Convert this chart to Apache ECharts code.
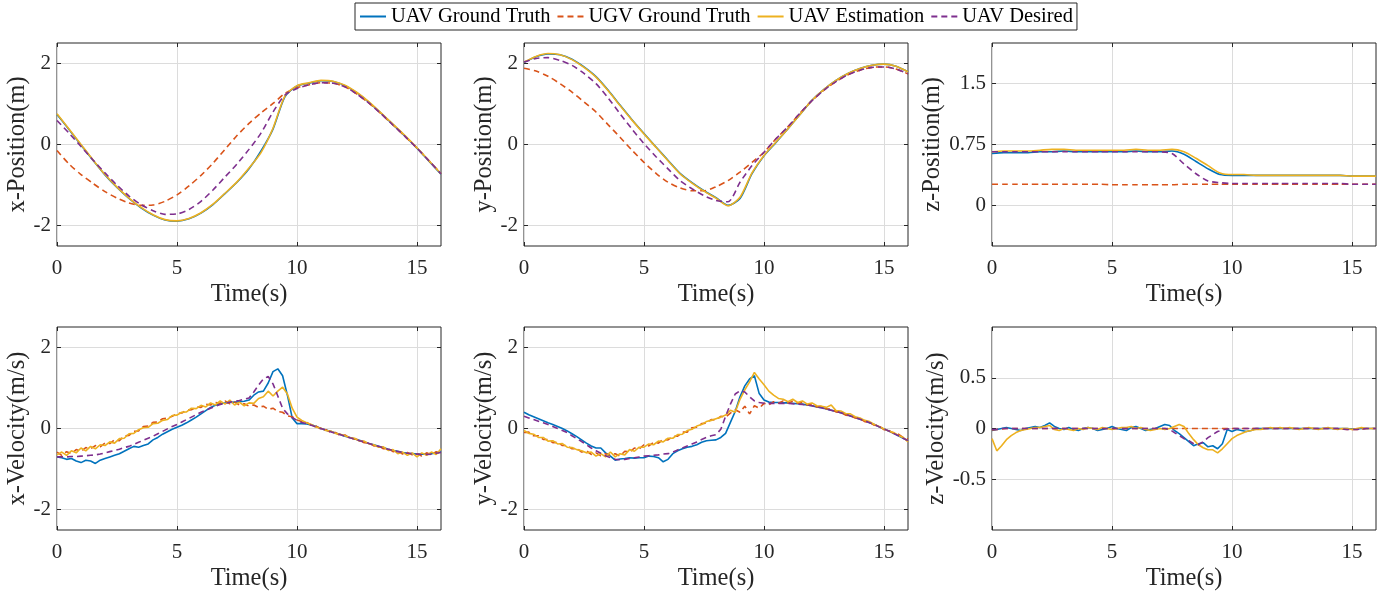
<!DOCTYPE html>
<html><head><meta charset="utf-8">
<script src="https://cdn.jsdelivr.net/npm/echarts@6/dist/echarts.min.js"></script>
<style>html,body{margin:0;padding:0;background:#fff}#c{width:1396px;height:599px}</style>
</head><body><div id="c"></div>
<script>
// ---------- DATA ----------
const SERIES_NAMES = ['UAV Ground Truth', 'UGV Ground Truth', 'UAV Estimation', 'UAV Desired'];
const TIME_TICKS = [0, 5, 10, 15];
const POS_TICKS = [-2, 0, 2];
const Z_POS_TICKS = [0, 0.75, 1.5];
const VEL_TICKS = [-2, 0, 2];
const Z_VEL_TICKS = [-0.5, 0, 0.5];

const T_POS = [0,0.5,1,1.5,2,2.5,3,3.5,4,4.5,5,5.5,6,6.5,7,7.5,8,8.5,9,9.5,10,10.5,11,11.5,12,12.5,13,13.5,14,14.5,15,15.5,16];
const T_VEL = [0,0.2,0.4,0.6,0.8,1,1.2,1.4,1.6,1.8,
  2,2.2,2.4,2.6,2.8,3,3.2,3.4,3.6,3.8,
  4,4.2,4.4,4.6,4.8,5,5.2,5.4,5.6,5.8,
  6,6.2,6.4,6.6,6.8,7,7.2,7.4,7.6,7.8,
  8,8.2,8.4,8.6,8.8,9,9.2,9.4,9.6,9.8,
  10,10.2,10.4,10.6,10.8,11,11.2,11.4,11.6,11.8,
  12,12.2,12.4,12.6,12.8,13,13.2,13.4,13.6,13.8,
  14,14.2,14.4,14.6,14.8,15,15.2,15.4,15.6,15.8,
  16];

// x-position
const X_POS_GT  = [0.74,0.37,-0.01,-0.39,-0.75,-1.06,-1.33,-1.56,-1.74,-1.86,-1.89,-1.83,-1.69,-1.48,-1.21,-0.93,-0.60,-0.16,0.38,1.18,1.44,1.51,1.57,1.55,1.45,1.27,1.04,0.77,0.49,0.21,-0.09,-0.41,-0.73];
const X_POS_UGV = [-0.15,-0.48,-0.74,-0.96,-1.16,-1.32,-1.44,-1.50,-1.49,-1.40,-1.24,-1.02,-0.76,-0.46,-0.12,0.22,0.52,0.78,1.01,1.26,1.40,1.47,1.52,1.51,1.42,1.24,1.02,0.76,0.48,0.20,-0.09,-0.40,-0.72];
const X_POS_EST = [0.76,0.38,0.00,-0.38,-0.74,-1.05,-1.32,-1.55,-1.73,-1.85,-1.88,-1.82,-1.68,-1.47,-1.20,-0.92,-0.58,-0.20,0.40,1.20,1.45,1.52,1.58,1.56,1.46,1.28,1.05,0.78,0.50,0.22,-0.08,-0.40,-0.72];
const X_POS_DES = [0.59,0.28,-0.05,-0.38,-0.70,-1.00,-1.27,-1.48,-1.63,-1.72,-1.71,-1.60,-1.40,-1.12,-0.80,-0.48,-0.12,0.28,0.80,1.22,1.38,1.47,1.52,1.51,1.42,1.24,1.02,0.76,0.48,0.20,-0.09,-0.40,-0.72];
// y-position
const Y_POS_GT  = [2.02,2.16,2.23,2.21,2.10,1.91,1.67,1.34,0.97,0.61,0.27,-0.06,-0.39,-0.71,-0.94,-1.14,-1.31,-1.50,-1.33,-0.72,-0.28,0.05,0.39,0.74,1.09,1.36,1.58,1.75,1.87,1.95,1.98,1.93,1.79];
const Y_POS_UGV = [1.88,1.81,1.68,1.50,1.29,1.05,0.80,0.49,0.18,-0.14,-0.44,-0.71,-0.93,-1.07,-1.14,-1.14,-1.04,-0.89,-0.68,-0.44,-0.19,0.14,0.44,0.77,1.08,1.34,1.55,1.72,1.83,1.90,1.91,1.86,1.74];
const Y_POS_EST = [2.03,2.17,2.24,2.21,2.09,1.90,1.66,1.33,0.96,0.60,0.26,-0.07,-0.40,-0.72,-0.95,-1.15,-1.32,-1.51,-1.30,-0.70,-0.27,0.06,0.39,0.74,1.09,1.36,1.58,1.75,1.87,1.95,1.98,1.93,1.79];
const Y_POS_DES = [2.03,2.12,2.14,2.07,1.95,1.75,1.50,1.15,0.76,0.38,0.02,-0.30,-0.60,-0.89,-1.09,-1.26,-1.38,-1.41,-0.93,-0.52,-0.19,0.14,0.44,0.77,1.08,1.34,1.55,1.72,1.83,1.90,1.91,1.86,1.74];
// z-position
const Z_POS_GT  = [0.64,0.65,0.65,0.65,0.66,0.66,0.67,0.66,0.66,0.66,0.66,0.66,0.67,0.66,0.66,0.67,0.63,0.54,0.45,0.38,0.37,0.37,0.37,0.37,0.37,0.37,0.37,0.37,0.37,0.37,0.36,0.36,0.36];
const Z_POS_UGV = [0.26,0.26,0.26,0.26,0.26,0.26,0.26,0.26,0.26,0.26,0.255,0.255,0.255,0.255,0.255,0.255,0.26,0.26,0.26,0.26,0.26,0.26,0.26,0.26,0.26,0.26,0.26,0.26,0.26,0.26,0.26,0.26,0.26];
const Z_POS_EST = [0.66,0.67,0.67,0.67,0.68,0.69,0.69,0.68,0.68,0.68,0.68,0.68,0.69,0.68,0.68,0.69,0.66,0.58,0.49,0.40,0.38,0.38,0.37,0.37,0.37,0.37,0.37,0.37,0.37,0.37,0.36,0.36,0.36];
const Z_POS_DES = [0.66,0.66,0.66,0.66,0.66,0.66,0.66,0.66,0.66,0.66,0.66,0.66,0.66,0.66,0.66,0.64,0.51,0.39,0.30,0.28,0.27,0.27,0.27,0.27,0.27,0.27,0.27,0.27,0.27,0.27,0.26,0.26,0.26];

// x-velocity
const X_VEL_GT = [-0.70,-0.72,-0.76,-0.74,-0.80,-0.84,-0.78,-0.80,-0.86,-0.78,
  -0.74,-0.70,-0.66,-0.62,-0.56,-0.50,-0.44,-0.46,-0.42,-0.38,
  -0.28,-0.22,-0.14,-0.08,-0.02,0.03,0.08,0.14,0.21,0.28,
  0.36,0.44,0.52,0.57,0.61,0.63,0.64,0.65,0.66,0.67,
  0.70,0.82,0.90,0.92,1.12,1.40,1.47,1.30,0.82,0.26,
  0.12,0.12,0.11,0.09,0.05,0.00,-0.04,-0.07,-0.11,-0.15,
  -0.19,-0.22,-0.26,-0.29,-0.33,-0.37,-0.40,-0.44,-0.47,-0.51,
  -0.54,-0.56,-0.59,-0.61,-0.62,-0.63,-0.63,-0.63,-0.62,-0.60,
  -0.58];
const X_VEL_UGV = [-0.58,-0.66,-0.57,-0.62,-0.52,-0.56,-0.47,-0.50,-0.42,-0.45,
  -0.36,-0.37,-0.28,-0.30,-0.18,-0.17,-0.07,-0.06,0.05,0.06,
  0.15,0.16,0.24,0.26,0.30,0.37,0.38,0.45,0.46,0.53,
  0.52,0.60,0.58,0.64,0.62,0.68,0.61,0.65,0.58,0.61,
  0.55,0.58,0.52,0.55,0.47,0.50,0.42,0.40,0.31,0.29,
  0.21,0.17,0.15,0.08,0.06,-0.02,-0.03,-0.09,-0.10,-0.17,
  -0.16,-0.24,-0.26,-0.28,-0.35,-0.35,-0.43,-0.42,-0.50,-0.49,
  -0.57,-0.55,-0.63,-0.59,-0.65,-0.62,-0.68,-0.60,-0.65,-0.57,
  -0.62];
const X_VEL_EST = [-0.65,-0.58,-0.66,-0.55,-0.60,-0.48,-0.55,-0.44,-0.50,-0.40,
  -0.42,-0.33,-0.36,-0.25,-0.24,-0.13,-0.12,-0.03,0.02,0.03,
  0.12,0.13,0.20,0.22,0.32,0.33,0.40,0.41,0.50,0.49,
  0.57,0.53,0.63,0.58,0.68,0.60,0.70,0.58,0.65,0.56,
  0.63,0.62,0.74,0.78,0.92,0.80,0.92,1.02,0.85,0.50,
  0.28,0.20,0.14,0.10,0.03,0.01,-0.05,-0.06,-0.12,-0.14,
  -0.18,-0.22,-0.24,-0.31,-0.31,-0.38,-0.40,-0.46,-0.45,-0.54,
  -0.52,-0.62,-0.58,-0.66,-0.60,-0.70,-0.60,-0.66,-0.58,-0.64,
  -0.50];
const X_VEL_DES = [-0.70,-0.70,-0.70,-0.69,-0.69,-0.68,-0.67,-0.66,-0.65,-0.63,
  -0.60,-0.57,-0.54,-0.51,-0.47,-0.44,-0.39,-0.34,-0.29,-0.24,
  -0.19,-0.13,-0.07,-0.01,0.05,0.10,0.16,0.22,0.28,0.34,
  0.40,0.45,0.50,0.55,0.59,0.62,0.65,0.67,0.69,0.72,
  0.75,0.90,1.07,1.22,1.28,1.10,0.80,0.50,0.36,0.27,
  0.20,0.15,0.12,0.08,0.04,0.00,-0.04,-0.08,-0.12,-0.15,
  -0.19,-0.23,-0.26,-0.30,-0.33,-0.37,-0.41,-0.44,-0.48,-0.51,
  -0.54,-0.57,-0.59,-0.61,-0.62,-0.63,-0.64,-0.64,-0.63,-0.61,
  -0.59];
// y-velocity
const Y_VEL_GT = [0.40,0.34,0.29,0.24,0.19,0.14,0.10,0.05,0.00,-0.06,
  -0.13,-0.20,-0.28,-0.36,-0.43,-0.48,-0.48,-0.60,-0.68,-0.78,
  -0.75,-0.74,-0.72,-0.73,-0.72,-0.72,-0.68,-0.69,-0.72,-0.82,
  -0.76,-0.62,-0.55,-0.50,-0.46,-0.44,-0.40,-0.34,-0.30,-0.29,
  -0.28,-0.22,-0.12,0.15,0.42,0.78,1.05,1.22,1.30,0.86,
  0.70,0.65,0.64,0.64,0.63,0.63,0.62,0.61,0.60,0.58,
  0.56,0.53,0.51,0.48,0.45,0.42,0.39,0.35,0.31,0.27,
  0.23,0.19,0.14,0.10,0.04,-0.01,-0.06,-0.12,-0.18,-0.24,
  -0.30];
const Y_VEL_UGV = [-0.10,-0.09,-0.18,-0.18,-0.27,-0.27,-0.35,-0.34,-0.42,-0.42,
  -0.50,-0.49,-0.58,-0.55,-0.64,-0.60,-0.67,-0.62,-0.66,-0.62,
  -0.68,-0.56,-0.58,-0.48,-0.50,-0.40,-0.43,-0.34,-0.36,-0.27,
  -0.28,-0.19,-0.19,-0.09,-0.09,0.02,0.03,0.12,0.13,0.22,
  0.21,0.30,0.28,0.38,0.46,0.40,0.55,0.36,0.56,0.50,
  0.62,0.58,0.66,0.62,0.68,0.63,0.67,0.62,0.64,0.58,
  0.60,0.53,0.55,0.48,0.48,0.41,0.40,0.33,0.32,0.26,
  0.24,0.17,0.15,0.08,0.06,-0.03,-0.05,-0.12,-0.14,-0.22,
  -0.26];
const Y_VEL_EST = [-0.05,-0.12,-0.14,-0.22,-0.22,-0.31,-0.30,-0.38,-0.37,-0.46,
  -0.47,-0.52,-0.55,-0.60,-0.58,-0.68,-0.62,-0.70,-0.58,-0.70,
  -0.62,-0.65,-0.52,-0.56,-0.46,-0.46,-0.38,-0.40,-0.31,-0.33,
  -0.24,-0.24,-0.15,-0.14,-0.05,-0.02,0.06,0.10,0.17,0.20,
  0.24,0.28,0.33,0.45,0.40,0.72,0.95,1.15,1.38,1.22,
  1.08,0.92,0.82,0.74,0.72,0.66,0.72,0.64,0.68,0.60,
  0.63,0.56,0.55,0.52,0.58,0.44,0.43,0.37,0.36,0.29,
  0.26,0.20,0.17,0.10,0.05,-0.01,-0.06,-0.10,-0.17,-0.22,
  -0.33];
const Y_VEL_DES = [0.30,0.26,0.22,0.18,0.14,0.10,0.05,0.00,-0.05,-0.10,
  -0.18,-0.25,-0.32,-0.40,-0.48,-0.55,-0.61,-0.67,-0.72,-0.76,
  -0.77,-0.76,-0.74,-0.72,-0.70,-0.68,-0.67,-0.66,-0.65,-0.63,
  -0.62,-0.58,-0.53,-0.48,-0.43,-0.38,-0.33,-0.27,-0.22,-0.18,
  -0.15,-0.02,0.30,0.60,0.85,0.93,0.90,0.78,0.68,0.64,
  0.62,0.62,0.62,0.62,0.62,0.62,0.61,0.60,0.59,0.58,
  0.56,0.53,0.51,0.48,0.45,0.42,0.39,0.35,0.31,0.27,
  0.23,0.19,0.14,0.10,0.04,-0.01,-0.06,-0.12,-0.18,-0.24,
  -0.30];
// z-velocity
const Z_VEL_GT = [-0.02,-0.01,0.00,0.01,0.00,-0.01,-0.02,0.00,0.01,0.02,
  0.01,0.03,0.055,0.02,0.00,-0.01,0.01,-0.01,-0.02,0.00,
  0.01,0.00,-0.02,-0.01,0.00,0.02,0.00,-0.01,-0.02,0.01,
  0.02,0.00,-0.02,-0.01,0.00,0.02,0.04,0.03,-0.02,-0.05,
  -0.09,-0.13,-0.17,-0.15,-0.14,-0.18,-0.17,-0.20,-0.15,-0.01,
  -0.03,-0.01,-0.02,-0.03,-0.02,0.00,0.00,0.00,0.00,0.00,
  0.00,0.00,0.00,0.00,0.00,0.00,0.00,0.00,0.00,0.00,
  0.00,0.00,0.00,0.00,0.00,-0.005,-0.005,0.00,0.00,0.00,
  0.00];
const Z_VEL_UGV = [-0.015,-0.01,-0.005,0.00,0.00,0.00,0.00,0.00,0.00,0.00,
  0.00,0.00,0.00,0.00,0.00,0.00,0.00,0.00,0.00,0.00,
  0.00,0.00,0.00,0.00,0.00,0.00,0.00,0.00,0.00,0.00,
  0.00,0.00,0.00,0.00,0.00,0.00,0.00,0.00,0.00,0.00,
  0.00,0.00,0.00,0.00,0.00,0.00,0.00,0.00,0.00,0.00,
  0.00,0.00,0.00,0.00,0.00,0.00,0.00,0.00,0.00,0.00,
  0.00,0.00,0.00,0.00,0.00,0.00,0.00,0.00,0.00,0.00,
  0.00,0.00,0.00,-0.005,-0.01,-0.01,-0.01,-0.005,0.00,0.00,
  0.00];
const Z_VEL_EST = [-0.10,-0.22,-0.17,-0.11,-0.07,-0.04,-0.02,-0.01,0.00,0.01,
  0.01,0.02,0.03,-0.01,-0.02,0.00,-0.01,-0.02,0.00,-0.01,
  0.01,0.00,-0.01,0.01,0.00,-0.01,0.00,0.01,0.01,0.02,
  0.00,0.01,-0.01,-0.02,-0.01,0.00,-0.01,0.00,0.02,0.04,
  0.02,-0.05,-0.11,-0.16,-0.19,-0.21,-0.21,-0.24,-0.20,-0.15,
  -0.10,-0.07,-0.05,-0.03,-0.02,-0.01,-0.01,0.00,0.01,0.00,
  0.01,0.00,0.01,0.00,-0.01,0.00,0.01,0.00,-0.01,0.00,
  0.01,0.00,-0.01,0.00,0.00,-0.01,0.00,0.01,0.00,0.00,
  0.00];
const Z_VEL_DES = [-0.01,-0.01,0.00,0.00,0.00,0.00,0.00,0.00,0.00,0.00,
  0.00,0.00,0.00,0.00,0.00,0.00,0.00,0.00,0.00,0.00,
  0.00,0.00,0.00,0.00,0.00,0.00,0.00,0.00,0.00,0.00,
  0.00,0.00,0.00,0.00,0.00,0.00,0.00,-0.01,-0.04,-0.07,
  -0.10,-0.12,-0.15,-0.16,-0.13,-0.09,-0.06,-0.03,-0.015,-0.005,
  0.00,0.00,0.00,0.00,0.00,0.00,0.00,0.00,0.00,0.00,
  0.00,0.00,0.00,0.00,0.00,0.00,0.00,0.00,0.00,0.00,
  0.00,0.00,0.00,-0.005,-0.01,-0.01,-0.01,-0.005,0.00,0.00,
  0.00];

// ---------- CHART ----------
const FONT = "'Liberation Serif','Times New Roman',serif";
const COLORS = ['#0072BD', '#D95319', '#EDB120', '#7E2F8E'];
const DASHED = [false, true, false, true];
const INK = '#262626';

const PANELS = [
  {t: T_POS, ys: [X_POS_GT, X_POS_UGV, X_POS_EST, X_POS_DES], min: -2.5, max: 2.5, ticks: POS_TICKS, name: 'x-Position(m)'},
  {t: T_POS, ys: [Y_POS_GT, Y_POS_UGV, Y_POS_EST, Y_POS_DES], min: -2.5, max: 2.5, ticks: POS_TICKS, name: 'y-Position(m)'},
  {t: T_POS, ys: [Z_POS_GT, Z_POS_UGV, Z_POS_EST, Z_POS_DES], min: -0.5, max: 2, ticks: Z_POS_TICKS, name: 'z-Position(m)'},
  {t: T_VEL, ys: [X_VEL_GT, X_VEL_UGV, X_VEL_EST, X_VEL_DES], min: -2.5, max: 2.5, ticks: VEL_TICKS, name: 'x-Velocity(m/s)'},
  {t: T_VEL, ys: [Y_VEL_GT, Y_VEL_UGV, Y_VEL_EST, Y_VEL_DES], min: -2.5, max: 2.5, ticks: VEL_TICKS, name: 'y-Velocity(m/s)'},
  {t: T_VEL, ys: [Z_VEL_GT, Z_VEL_UGV, Z_VEL_EST, Z_VEL_DES], min: -1, max: 1, ticks: Z_VEL_TICKS, name: 'z-Velocity(m/s)'}
];
const LEFTS = [57, 524, 992];
const TOPS = [43, 327];

const grid = [], xAxis = [], yAxis = [], series = [];
PANELS.forEach((p, i) => {
  grid.push({left: LEFTS[i % 3], top: TOPS[Math.floor(i / 3)], width: 384, height: 203,
    show: true, borderColor: INK, borderWidth: 1, backgroundColor: 'transparent'});
  const tickStyle = {color: INK, width: 1};
  const gridLine = {show: true, lineStyle: {color: '#dcdcdc', width: 1}};
  xAxis.push({gridIndex: i, type: 'value', min: 0, max: 16, position: 'bottom',
    name: 'Time(s)', nameLocation: 'middle', nameGap: 36,
    nameTextStyle: {fontSize: 24.5, color: INK, fontFamily: FONT},
    axisLine: {show: false, onZero: false},
    axisTick: {show: true, inside: true, length: 4, customValues: TIME_TICKS, lineStyle: tickStyle},
    axisLabel: {customValues: TIME_TICKS, fontSize: 21, color: INK, fontFamily: FONT, margin: 12},
    splitLine: gridLine});
  xAxis.push({gridIndex: i, type: 'value', min: 0, max: 16, position: 'top',
    axisLine: {show: false, onZero: false},
    axisTick: {show: true, inside: true, length: 4, customValues: TIME_TICKS, lineStyle: tickStyle},
    axisLabel: {show: false}, splitLine: {show: false}});
  yAxis.push({gridIndex: i, type: 'value', min: p.min, max: p.max, position: 'left',
    name: p.name, nameLocation: 'middle', nameGap: 26, nameRotate: 90,
    nameTextStyle: {fontSize: 24.5, color: INK, fontFamily: FONT},
    axisLine: {show: false, onZero: false},
    axisTick: {show: true, inside: true, length: 4, customValues: p.ticks, lineStyle: tickStyle},
    axisLabel: {customValues: p.ticks, fontSize: 21, color: INK, fontFamily: FONT, margin: 6},
    splitLine: gridLine});
  yAxis.push({gridIndex: i, type: 'value', min: p.min, max: p.max, position: 'right',
    axisLine: {show: false, onZero: false},
    axisTick: {show: true, inside: true, length: 4, customValues: p.ticks, lineStyle: tickStyle},
    axisLabel: {show: false}, splitLine: {show: false}});
  p.ys.forEach((vals, k) => {
    series.push({
      name: SERIES_NAMES[k], type: 'line', xAxisIndex: 2 * i, yAxisIndex: 2 * i,
      data: p.t.map((tt, j) => [tt, vals[j]]),
      symbol: 'none', showSymbol: false, clip: true,
      smooth: p.t === T_POS ? 0.25 : false,
      color: COLORS[k],
      lineStyle: {color: COLORS[k], width: 1.6, type: DASHED[k] ? [6, 4] : 'solid'},
      z: 2 + k
    });
  });
});

const chart = echarts.init(document.getElementById('c'), null, {renderer: 'canvas'});
chart.setOption({
  animation: false,
  backgroundColor: '#ffffff',
  legend: {
    data: SERIES_NAMES, left: 355, top: 3, orient: 'horizontal',
    itemWidth: 26, itemHeight: 14, itemGap: 6, padding: [2, 4],
    itemStyle: {opacity: 0},
    borderColor: INK, borderWidth: 1, backgroundColor: '#fff',
    textStyle: {fontSize: 20.5, fontFamily: FONT, color: '#000', lineHeight: 23}
  },
  grid, xAxis, yAxis, series
});
</script>
</body></html>
